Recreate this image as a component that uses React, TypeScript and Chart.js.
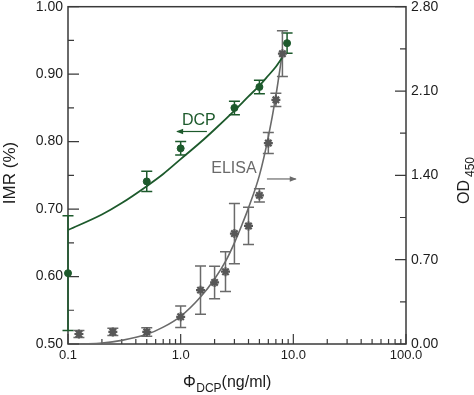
import React, { useEffect, useRef } from "react";
import { Chart, registerables } from "chart.js";

Chart.register(...registerables);

const FONT = "'Liberation Sans', Arial, Helvetica, sans-serif";
const GREEN = "#1d5a2c";
const GRAY_LINE = "#6a6a6a";
const GRAY_MARK = "#575757";
const AXIS = "#3a3a3a";
const TEXT = "#1c1c1c";

// DCP measurements (left axis, IMR)
const dcpX = [0.1, 0.5, 1, 3, 5, 8.8];
const dcpY = [0.605, 0.741, 0.79, 0.85, 0.881, 0.946];
const dcpErr = [0.085, 0.015, 0.01, 0.01, 0.01, 0.015];

// DCP fitted curve
const dcpFitX = [0.1, 0.2, 0.3, 0.5, 0.7, 1, 1.5, 2, 3, 4, 5, 6, 7, 8];
const dcpFitY = [0.669, 0.692, 0.709, 0.734, 0.752, 0.774, 0.799, 0.818, 0.846, 0.867, 0.883, 0.898, 0.911, 0.925];

// ELISA measurements (right axis, OD450)
const elisaX = [0.125, 0.25, 0.5, 1, 1.5, 2, 2.5, 3, 4, 5, 6, 7, 8];
const elisaY = [0.083, 0.1, 0.1, 0.226, 0.447, 0.511, 0.6, 0.917, 0.98, 1.234, 1.668, 2.027, 2.41];
const elisaErr = [0.03, 0.03, 0.035, 0.09, 0.2, 0.135, 0.165, 0.25, 0.155, 0.055, 0.087, 0.055, 0.19];

// ELISA fitted curve
const elisaFitX = [0.13, 0.2, 0.3, 0.5, 0.7, 1, 1.5, 2, 2.5, 3, 3.5, 4, 5, 6, 7, 8];
const elisaFitY = [0, 0.008, 0.03, 0.08, 0.14, 0.23, 0.39, 0.54, 0.685, 0.84, 0.99, 1.13, 1.4, 1.72, 2.06, 2.42];

// Axis ticks
const xTickValues = [0.1, 1, 10, 100];
const xTickLabels = ["0.1", "1.0", "10.0", "100.0"];
const leftTickValues = [0.5, 0.6, 0.7, 0.8, 0.9, 1.0];
const leftTickLabels = ["0.50", "0.60", "0.70", "0.80", "0.90", "1.00"];
const rightTickValues = [0, 0.7, 1.4, 2.1, 2.8];
const rightTickLabels = ["0.00", "0.70", "1.40", "2.10", "2.80"];

// Annotation anchors (data coordinates)
const dcpLabel = { text: "DCP", x: 1.45, y: 0.831 };
const dcpArrow = { from: 1.71, to: 0.93, y: 0.815 };
const elisaLabel = { text: "ELISA", x: 2.97, y: 1.458 };
const elisaArrow = { from: 5.83, to: 10.5, y: 1.37 };

const pts = (xs: number[], ys: number[]) => xs.map((x, i) => ({ x, y: ys[i] }));

const framePlugin = {
  id: "frameTicks",
  beforeDatasetsDraw(chart: any) {
    const { ctx, chartArea } = chart;
    const { left, right, top, bottom } = chartArea;
    const xs = chart.scales.x;
    const yl = chart.scales.y;
    const yr = chart.scales.y2;
    ctx.save();
    ctx.strokeStyle = AXIS;
    ctx.lineWidth = 1.5;
    ctx.strokeRect(left, top, right - left, bottom - top);
    ctx.lineWidth = 1.2;
    ctx.beginPath();
    for (let i = 0; i < leftTickValues.length; i++) {
      const v = leftTickValues[i];
      const py = yl.getPixelForValue(v);
      ctx.moveTo(left, py);
      ctx.lineTo(left + 11, py);
      if (i < leftTickValues.length - 1) {
        const pm = yl.getPixelForValue((v + leftTickValues[i + 1]) / 2);
        ctx.moveTo(left, pm);
        ctx.lineTo(left + 6, pm);
      }
    }
    for (let i = 0; i < rightTickValues.length; i++) {
      const v = rightTickValues[i];
      const py = yr.getPixelForValue(v);
      ctx.moveTo(right, py);
      ctx.lineTo(right - 11, py);
      if (i < rightTickValues.length - 1) {
        const pm = yr.getPixelForValue((v + rightTickValues[i + 1]) / 2);
        ctx.moveTo(right, pm);
        ctx.lineTo(right - 6, pm);
      }
    }
    for (let i = 0; i < xTickValues.length; i++) {
      const d = xTickValues[i];
      const px = xs.getPixelForValue(d);
      ctx.moveTo(px, bottom);
      ctx.lineTo(px, bottom - 10);
      if (i < xTickValues.length - 1) {
        for (let k = 2; k <= 9; k++) {
          const pm = xs.getPixelForValue(d * k);
          ctx.moveTo(pm, bottom);
          ctx.lineTo(pm, bottom - 5);
        }
      }
    }
    ctx.stroke();
    ctx.restore();

    // error bars
    chart.data.datasets.forEach((ds: any) => {
      if (!ds.errors) return;
      const ys = chart.scales[ds.yAxisID];
      ctx.save();
      ctx.strokeStyle = ds.errorColor;
      ctx.lineWidth = 1.5;
      ctx.beginPath();
      ds.data.forEach((p: any, i: number) => {
        const px = xs.getPixelForValue(p.x);
        const yt = ys.getPixelForValue(p.y + ds.errors[i]);
        const yb = ys.getPixelForValue(p.y - ds.errors[i]);
        ctx.moveTo(px, yt);
        ctx.lineTo(px, yb);
        ctx.moveTo(px - 5.5, yt);
        ctx.lineTo(px + 5.5, yt);
        ctx.moveTo(px - 5.5, yb);
        ctx.lineTo(px + 5.5, yb);
      });
      ctx.stroke();
      ctx.restore();
    });
  },
};

function arrow(ctx: CanvasRenderingContext2D, x1: number, x2: number, y: number, color: string) {
  ctx.save();
  ctx.strokeStyle = color;
  ctx.fillStyle = color;
  ctx.lineWidth = 1.2;
  ctx.beginPath();
  ctx.moveTo(x1, y);
  ctx.lineTo(x2, y);
  ctx.stroke();
  const dir = x2 > x1 ? 1 : -1;
  ctx.beginPath();
  ctx.moveTo(x2 + dir * 1, y);
  ctx.lineTo(x2 - dir * 6, y - 2.8);
  ctx.lineTo(x2 - dir * 6, y + 2.8);
  ctx.closePath();
  ctx.fill();
  ctx.restore();
}

const textPlugin = {
  id: "textLabels",
  afterDraw(chart: any) {
    const { ctx } = chart;
    const xs = chart.scales.x;
    const yl = chart.scales.y;
    const yr = chart.scales.y2;
    ctx.save();
    ctx.font = `16px ${FONT}`;
    ctx.textAlign = "center";
    ctx.textBaseline = "middle";
    ctx.fillStyle = GREEN;
    ctx.fillText(dcpLabel.text, xs.getPixelForValue(dcpLabel.x), yl.getPixelForValue(dcpLabel.y));
    arrow(ctx, xs.getPixelForValue(dcpArrow.from), xs.getPixelForValue(dcpArrow.to), yl.getPixelForValue(dcpArrow.y), GREEN);
    ctx.fillStyle = GRAY_LINE;
    ctx.fillText(elisaLabel.text, xs.getPixelForValue(elisaLabel.x), yr.getPixelForValue(elisaLabel.y));
    arrow(ctx, xs.getPixelForValue(elisaArrow.from), xs.getPixelForValue(elisaArrow.to), yr.getPixelForValue(elisaArrow.y), GRAY_LINE);

    ctx.fillStyle = TEXT;
    ctx.textBaseline = "alphabetic";
    ctx.save();
    ctx.translate(15, 173);
    ctx.rotate(-Math.PI / 2);
    ctx.textAlign = "center";
    ctx.font = `17px ${FONT}`;
    ctx.fillText("IMR (%)", 0, 0);
    ctx.restore();
    ctx.save();
    ctx.translate(469, 204);
    ctx.rotate(-Math.PI / 2);
    ctx.textAlign = "left";
    ctx.font = `16px ${FONT}`;
    ctx.fillText("OD", 0, 0);
    const wOD = ctx.measureText("OD").width;
    ctx.font = `12px ${FONT}`;
    ctx.fillText("450", wOD + 3, 4.5);
    ctx.restore();
    ctx.textAlign = "left";
    let cx = 183;
    ctx.font = `16px ${FONT}`;
    ctx.fillText("\u03A6", cx, 387);
    cx += ctx.measureText("\u03A6").width + 0.5;
    ctx.font = `12px ${FONT}`;
    ctx.fillText("DCP", cx, 392);
    cx += ctx.measureText("DCP").width;
    ctx.font = `16px ${FONT}`;
    ctx.fillText("(ng/ml)", cx, 387);
    ctx.restore();
  },
};

export default function App() {
  const ref = useRef<HTMLCanvasElement | null>(null);
  useEffect(() => {
    if (!ref.current) return;
    const chart = new Chart(ref.current, {
      type: "line",
      data: {
        datasets: [
          {
            label: "DCP",
            data: pts(dcpX, dcpY),
            yAxisID: "y",
            showLine: false,
            pointStyle: "circle",
            pointRadius: 3.5,
            backgroundColor: GREEN,
            borderColor: GREEN,
            borderWidth: 1,
            clip: false,
            errors: dcpErr,
            errorColor: GREEN,
          } as any,
          {
            label: "ELISA",
            data: pts(elisaX, elisaY),
            yAxisID: "y2",
            showLine: false,
            pointStyle: "star",
            pointRadius: 4.5,
            backgroundColor: GRAY_MARK,
            borderColor: GRAY_MARK,
            borderWidth: 2.2,
            clip: false,
            errors: elisaErr,
            errorColor: GRAY_LINE,
          } as any,
          {
            label: "DCP fit",
            data: pts(dcpFitX, dcpFitY),
            yAxisID: "y",
            borderColor: GREEN,
            borderWidth: 1.8,
            pointRadius: 0,
            cubicInterpolationMode: "monotone",
            fill: false,
          },
          {
            label: "ELISA fit",
            data: pts(elisaFitX, elisaFitY),
            yAxisID: "y2",
            borderColor: GRAY_LINE,
            borderWidth: 1.6,
            pointRadius: 0,
            cubicInterpolationMode: "monotone",
            fill: false,
          },
        ],
      },
      options: {
        responsive: false,
        animation: false,
        events: [],
        layout: { padding: { top: 6, left: 0, right: 0, bottom: 0 } },
        plugins: { legend: { display: false }, tooltip: { enabled: false } },
        scales: {
          x: {
            type: "logarithmic",
            position: "bottom",
            min: 0.1,
            max: 100,
            grid: { display: false, drawTicks: false },
            border: { display: false },
            afterBuildTicks: (s: any) => {
              s.ticks = xTickValues.map((v) => ({ value: v }));
            },
            afterFit: (s: any) => {
              s.height = 51;
              s.paddingLeft = 0;
              s.paddingRight = 0;
            },
            ticks: {
              autoSkip: false,
              maxRotation: 0,
              padding: 4,
              color: TEXT,
              font: { family: FONT, size: 13 },
              callback: (_v: any, i: number) => xTickLabels[i],
            },
          },
          y: {
            type: "linear",
            position: "left",
            min: 0.5,
            max: 1.0,
            grid: { display: false, drawTicks: false },
            border: { display: false },
            afterBuildTicks: (s: any) => {
              s.ticks = leftTickValues.map((v) => ({ value: v }));
            },
            afterFit: (s: any) => {
              s.width = 68;
              s.paddingTop = 0;
              s.paddingBottom = 0;
            },
            ticks: {
              padding: 5,
              color: TEXT,
              font: { family: FONT, size: 14 },
              callback: (_v: any, i: number) => leftTickLabels[i],
            },
          },
          y2: {
            type: "linear",
            position: "right",
            min: 0,
            max: 2.8,
            grid: { display: false, drawTicks: false },
            border: { display: false },
            afterBuildTicks: (s: any) => {
              s.ticks = rightTickValues.map((v) => ({ value: v }));
            },
            afterFit: (s: any) => {
              s.width = 68;
              s.paddingTop = 0;
              s.paddingBottom = 0;
            },
            ticks: {
              padding: 5,
              color: TEXT,
              font: { family: FONT, size: 14 },
              callback: (_v: any, i: number) => rightTickLabels[i],
            },
          },
        },
      } as any,
      plugins: [framePlugin, textPlugin],
    });
    return () => chart.destroy();
  }, []);
  return (
    <div style={{ position: "absolute", left: 0, top: 0, width: 474, height: 395, background: "#fff" }}>
      <canvas ref={ref} width={474} height={395} style={{ display: "block" }} />
    </div>
  );
}
